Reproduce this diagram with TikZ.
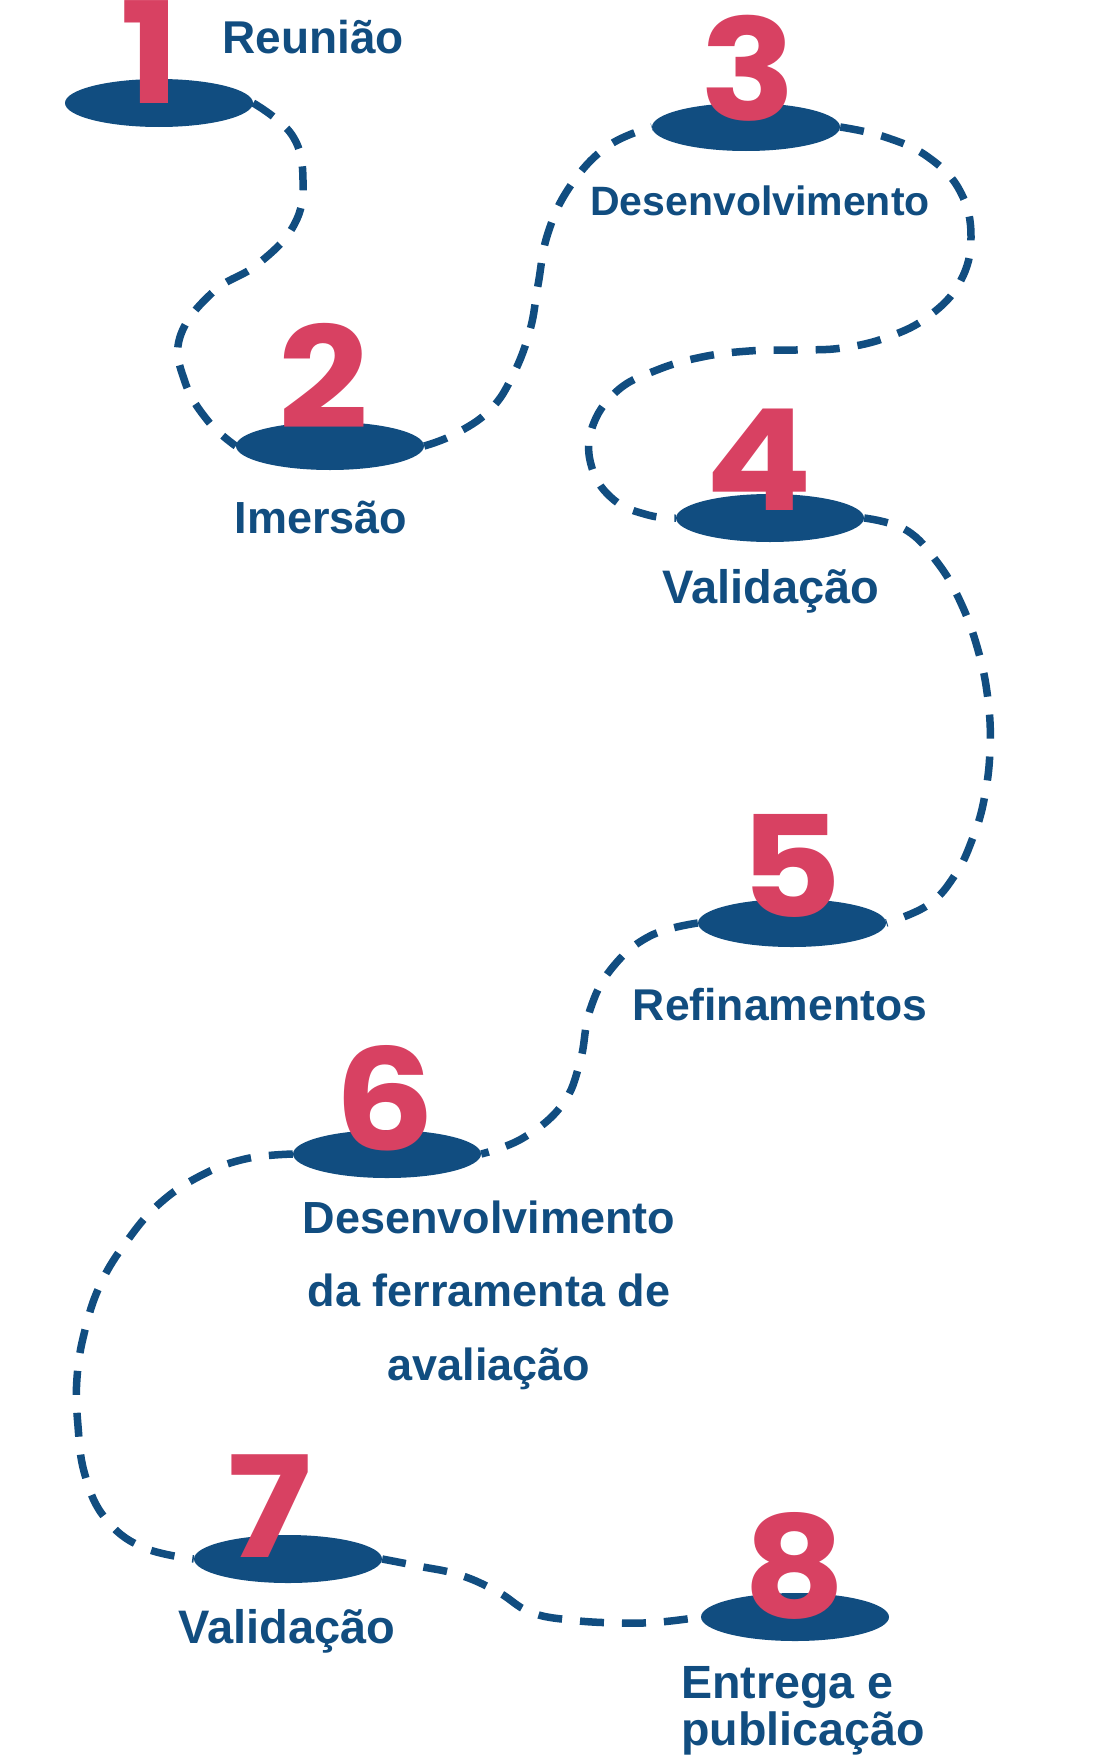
\documentclass[tikz,border=0pt]{standalone}
\usepackage{fontspec}
\usepackage{xcolor}
\usetikzlibrary{shapes.geometric}
\newfontfamily\labelfont{Liberation Sans}
\newfontfamily\digitfont{Poppins}[FakeStretch=1.12]
\definecolor{Navy}{HTML}{114D80}
\definecolor{Rose}{HTML}{D84162}
\pgfdeclarelayer{back}
\pgfsetlayers{back,main}
\tikzset{
  pad/.style={ellipse,fill=Navy,minimum width=188pt,minimum height=48pt,inner sep=0pt},
  num/.style={anchor=base,text=Rose,inner sep=0pt,font=\digitfont\bfseries\fontsize{141}{141}\selectfont},
  lbl/.style={anchor=base,text=Navy,inner sep=0pt,align=center,font=\labelfont\bfseries\fontsize{45}{73.5}\selectfont},
  trail/.style={draw=Navy,line width=7.5pt,dash pattern=on 24pt off 18pt}
}

\begin{document}
\begin{tikzpicture}[x=1pt,y=-1pt]
  \useasboundingbox (0,0) rectangle (1101,1761);
  % stepping stones
  \node[pad] (e1) at (159,103) {};
  \node[pad] (e2) at (330,446) {};
  \node[pad] (e3) at (746,127) {};
  \node[pad] (e4) at (770,518) {};
  \node[pad] (e5) at (792,923) {};
  \node[pad] (e6) at (387,1154) {};
  \node[pad] (e7) at (288,1559) {};
  \node[pad] (e8) at (795,1617) {};
  % dashed trail
  \begin{pgfonlayer}{back}
  \draw[trail] plot[smooth,tension=0.7] coordinates {(e1.east) (292,135) (303,180) (294,225) (258,264) (213,292) (180,337) (185,382) (208,421) (e2.west)};
  \draw[trail] plot[smooth,tension=0.7] coordinates {(e2.east) (455,434) (490,410) (513,375) (530,330) (538,285) (548,233) (571,185) (608,146) (e3.west)};
  \draw[trail] plot[smooth,tension=0.7] coordinates {(e3.east) (885,137) (928,157) (960,191) (971,237) (960,282) (929,316) (888,337) (842,348) (796,350) (749,351) (702,357) (657,370) (617,391) (592,428) (592,468) (614,500) (648,515) (e4.west)};
  \draw[trail] plot[smooth,tension=0.7] coordinates {(e4.east) (906,530) (937,562) (960,601) (978,650) (988,700) (990,750) (984,800) (972,840) (955,875) (928,905) (e5.east)};
  \draw[trail] plot[smooth,tension=0.7] coordinates {(e5.west) (650,936) (612,968) (590,1010) (580,1062) (562,1105) (523,1138) (e6.east)};
  \draw[trail] plot[smooth,tension=0.7] coordinates {(e6.west) (245,1159) (200,1176) (159,1204) (127,1241) (101,1283) (85,1330) (77,1378) (78,1426) (85,1475) (105,1518) (142,1547) (e7.west)};
  \draw[trail] plot[smooth,tension=0.7] coordinates {(e7.east) (418,1566) (460,1575) (498,1592) (530,1612) (570,1620) (620,1623) (660,1622) (e8.west)};
  \end{pgfonlayer}
  % numbers
  \node[num] (n1) at (150,103) {1};
  \node[num] (n2) at (324,428) {2};
  \node[num] (n3) at (748,120) {3};
  \node[num] (n4) at (759,510) {4};
  \node[num] (n5) at (791,917) {5};
  \node[num] (n6) at (385,1150) {6};
  \node[num] (n7) at (270,1557) {7};
  \node[num] (n8) at (795,1617) {8};
  % captions
  \node[lbl,font=\labelfont\bfseries\fontsize{46}{50}\selectfont] (t1) at (313,53) {Reunião};
  \node[lbl] (t2) at (321,533) {Imersão};
  \node[lbl,font=\labelfont\bfseries\fontsize{41}{50}\selectfont] (t3) at (760,215) {Desenvolvimento};
  \node[lbl,font=\labelfont\bfseries\fontsize{47}{50}\selectfont] (t4) at (771,603) {Validação};
  \node[lbl,font=\labelfont\bfseries\fontsize{44.5}{50}\selectfont] (t5) at (780,1020) {Refinamentos};
  \node[lbl] (t6) at (489,1380) {Desenvolvimento\\da ferramenta de\\avaliação};
  \node[lbl,font=\labelfont\bfseries\fontsize{47}{50}\selectfont] (t7) at (287,1643) {Validação};
  \node[lbl,anchor=base west,align=left,font=\labelfont\bfseries\fontsize{46.6}{47}\selectfont] (t8) at (681,1745) {Entrega e\\publicação};
\end{tikzpicture}
\end{document}
